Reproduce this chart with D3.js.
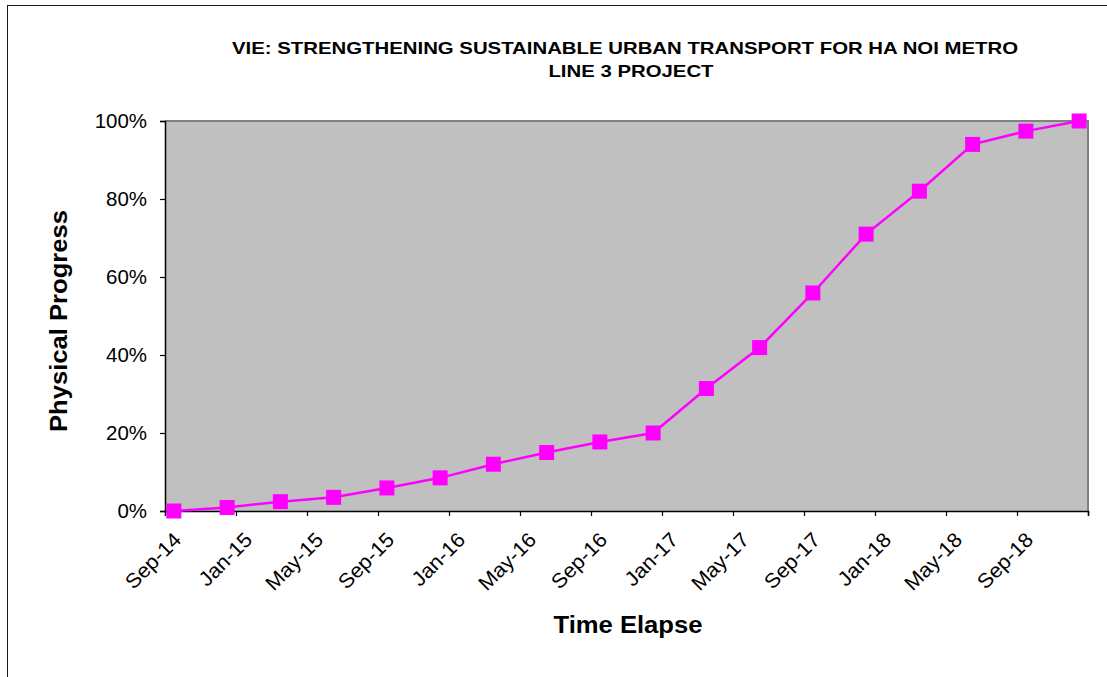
<!DOCTYPE html>
<html>
<head>
<meta charset="utf-8">
<script src="https://cdn.jsdelivr.net/npm/d3@7"></script>
<style>
  html, body { margin: 0; padding: 0; background: #fff; }
  svg { display: block; font-family: Arial, "Liberation Sans", sans-serif; }
</style>
</head>
<body>
<svg id="chart" width="1107" height="677"></svg>
<script>
// ---- Data ----
const titleLines = ["VIE: STRENGTHENING SUSTAINABLE URBAN TRANSPORT FOR HA NOI METRO", "LINE 3 PROJECT"];
const xTitle = "Time Elapse";
const yTitle = "Physical Progress";
// quarterly observation months (YYYY-MM)
const months = ["2014-09","2014-12","2015-03","2015-06","2015-09","2015-12","2016-03","2016-06","2016-09",
                "2016-12","2017-03","2017-06","2017-09","2017-12","2018-03","2018-06","2018-09","2018-12"];
const progress = [0, 0.9, 2.4, 3.5, 5.9, 8.5, 12, 15, 17.7, 20, 31.4, 41.9, 55.9, 71, 82, 94, 97.4, 100];
const xTickMonths = ["2014-09","2015-01","2015-05","2015-09","2016-01","2016-05","2016-09","2017-01",
                     "2017-05","2017-09","2018-01","2018-05","2018-09","2019-01"];
const xTickLabels = ["Sep-14","Jan-15","May-15","Sep-15","Jan-16","May-16","Sep-16","Jan-17",
                     "May-17","Sep-17","Jan-18","May-18","Sep-18",""];
const yTicks = [0, 20, 40, 60, 80, 100];
const yTickLabels = ["0%","20%","40%","60%","80%","100%"];

// ---- Layout ----
const plot = { left: 165, right: 1088, top: 121, bottom: 511 };
const svg = d3.select("#chart");

// month index helper (Excel date axis with month base unit -> uniform months)
const monthIndex = s => { const [y, m] = s.split("-").map(Number); return y * 12 + (m - 1); };
const m0 = monthIndex("2014-09");
const m1 = monthIndex("2019-01");

const x = d3.scaleLinear().domain([m0, m1]).range([plot.left, plot.right]);
const y = d3.scaleLinear().domain([0, 100]).range([plot.bottom, plot.top]);

// outer frame
svg.append("rect").attr("x", 7.5).attr("y", 5.5).attr("width", 1300).attr("height", 1000)
  .attr("fill", "none").attr("stroke", "#1a1a1a").attr("stroke-width", 1);

// plot background
svg.append("rect").attr("x", plot.left).attr("y", plot.top)
  .attr("width", plot.right - plot.left).attr("height", plot.bottom - plot.top)
  .attr("fill", "#C0C0C0");
// top and right gray border
svg.append("path")
  .attr("d", `M${plot.left},${plot.top}H${plot.right}V${plot.bottom}`)
  .attr("fill", "none").attr("stroke", "#808080").attr("stroke-width", 2);

// Y axis
const yAxis = d3.axisLeft(y).tickValues(yTicks).tickSize(5).tickPadding(13)
  .tickFormat((d, i) => yTickLabels[i]);
const gy = svg.append("g").attr("transform", `translate(${plot.left},0)`).call(yAxis);
gy.select(".domain").attr("stroke", "#000").attr("stroke-width", 1.5);
gy.selectAll(".tick line").attr("stroke", "#000").attr("stroke-width", 1.2);
gy.selectAll(".tick text").attr("font-size", 19.5).attr("fill", "#000")
  .attr("font-family", "Arial, 'Liberation Sans', sans-serif");

// X axis
const xAxis = d3.axisBottom(x).tickValues(xTickMonths.map(monthIndex)).tickSize(5)
  .tickFormat((d, i) => xTickLabels[i]);
const gx = svg.append("g").attr("transform", `translate(0,${plot.bottom})`).call(xAxis);
gx.select(".domain").attr("stroke", "#000").attr("stroke-width", 1.5);
gx.selectAll(".tick line").attr("stroke", "#000").attr("stroke-width", 1.2);
gx.selectAll(".tick text")
  .attr("font-size", 20.5).attr("fill", "#000")
  .attr("font-family", "Arial, 'Liberation Sans', sans-serif")
  .attr("text-anchor", "end")
  .attr("y", 0).attr("dy", "0.35em")
  .attr("transform", "translate(12,25) rotate(-45)");

// slight horizontal widening of tick labels to match reference glyph widths
svg.selectAll(".tick text").each(function () {
  const w = this.getComputedTextLength();
  if (w > 0) d3.select(this).attr("textLength", w * 1.05).attr("lengthAdjust", "spacingAndGlyphs");
});

// line
const pts = months.map((m, i) => ({ mx: monthIndex(m) + 0.5, v: progress[i] }));
const line = d3.line().x(d => x(d.mx)).y(d => y(d.v));
svg.append("path").datum(pts).attr("d", line)
  .attr("fill", "none").attr("stroke", "#FF00FF").attr("stroke-width", 2.5);

// markers
const ms = 15;
svg.append("g").selectAll("rect").data(pts).join("rect")
  .attr("x", d => x(d.mx) - ms / 2).attr("y", d => y(d.v) - ms / 2)
  .attr("width", ms).attr("height", ms).attr("fill", "#FF00FF");

// Title
const t1 = svg.append("text").attr("x", 625).attr("y", 54).attr("text-anchor", "middle")
  .attr("font-size", 16.5).attr("font-weight", "bold").attr("fill", "#000").text(titleLines[0]);
const nat1 = t1.node().getComputedTextLength();
const sx = 786 / nat1;
t1.attr("textLength", 786).attr("lengthAdjust", "spacingAndGlyphs");
const t2 = svg.append("text").attr("x", 631).attr("y", 77).attr("text-anchor", "middle")
  .attr("font-size", 16.5).attr("font-weight", "bold").attr("fill", "#000").text(titleLines[1]);
t2.attr("textLength", t2.node().getComputedTextLength() * sx).attr("lengthAdjust", "spacingAndGlyphs");

// Axis titles
const xt = svg.append("text").attr("x", 628).attr("y", 633).attr("text-anchor", "middle")
  .attr("font-size", 24).attr("font-weight", "bold").attr("fill", "#000").text(xTitle);
xt.attr("textLength", 149).attr("lengthAdjust", "spacingAndGlyphs");

const yt = svg.append("text").attr("transform", "translate(67,321) rotate(-90)")
  .attr("text-anchor", "middle")
  .attr("font-size", 24).attr("font-weight", "bold").attr("fill", "#000").text(yTitle);
yt.attr("textLength", 222).attr("lengthAdjust", "spacingAndGlyphs");
</script>
</body>
</html>
